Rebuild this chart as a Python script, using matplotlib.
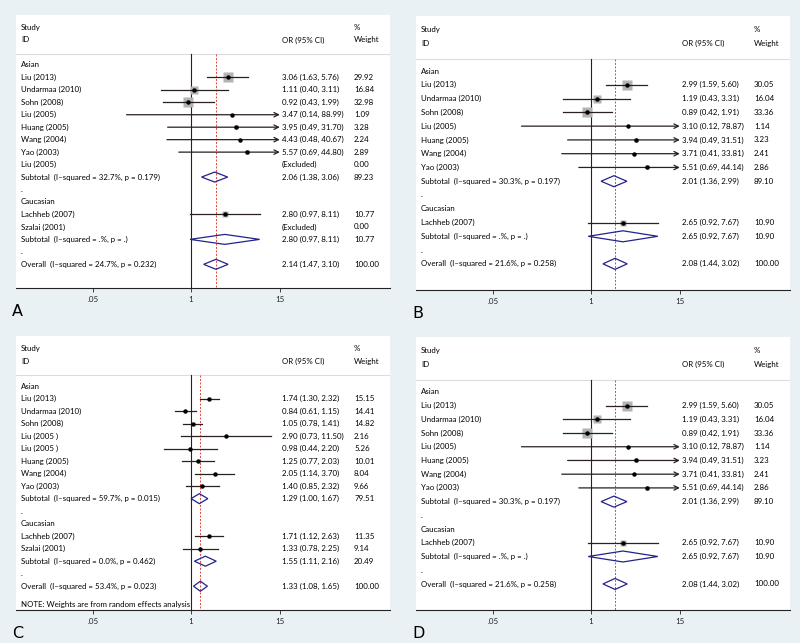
import matplotlib.pyplot as plt
from matplotlib.patches import Polygon
import numpy as np

plt.rcParams['font.family'] = ['Lato', 'DejaVu Sans']

nan = np.nan

# panel A
a_kind = ['g', 's', 's', 's', 's', 's', 's', 's', 'x', 't', '.', 'g', 's', 'x', 't', '.', 'o']
a_names = ['Asian', 'Liu (2013)', 'Undarmaa (2010)', 'Sohn (2008)', 'Liu (2005)', 'Huang (2005)',
           'Wang (2004)', 'Yao (2003)', 'Liu (2005)', 'Subtotal  (I\u2013squared = 32.7%, p = 0.179)', '.',
           'Caucasian', 'Lachheb (2007)', 'Szalai (2001)', 'Subtotal  (I\u2013squared = .%, p = .)', '.',
           'Overall  (I\u2013squared = 24.7%, p = 0.232)']
a_or = [nan, 3.06, 1.11, 0.92, 3.47, 3.95, 4.43, 5.57, nan, 2.06, nan, nan, 2.80, nan, 2.80, nan, 2.14]
a_lo = [nan, 1.63, 0.40, 0.43, 0.14, 0.49, 0.48, 0.69, nan, 1.38, nan, nan, 0.97, nan, 0.97, nan, 1.47]
a_hi = [nan, 5.76, 3.11, 1.99, 88.99, 31.70, 40.67, 44.80, nan, 3.06, nan, nan, 8.11, nan, 8.11, nan, 3.10]
a_wt = [nan, 29.92, 16.84, 32.98, 1.09, 3.28, 2.24, 2.89, 0.00, 89.23, nan, nan, 10.77, 0.00, 10.77, nan, 100.00]

# panel B (panel D shows the same results)
b_kind = ['g', 's', 's', 's', 's', 's', 's', 's', 't', '.', 'g', 's', 't', '.', 'o']
b_names = ['Asian', 'Liu (2013)', 'Undarmaa (2010)', 'Sohn (2008)', 'Liu (2005)', 'Huang (2005)',
           'Wang (2004)', 'Yao (2003)', 'Subtotal  (I\u2013squared = 30.3%, p = 0.197)', '.',
           'Caucasian', 'Lachheb (2007)', 'Subtotal  (I\u2013squared = .%, p = .)', '.',
           'Overall  (I\u2013squared = 21.6%, p = 0.258)']
b_or = [nan, 2.99, 1.19, 0.89, 3.10, 3.94, 3.71, 5.51, 2.01, nan, nan, 2.65, 2.65, nan, 2.08]
b_lo = [nan, 1.59, 0.43, 0.42, 0.12, 0.49, 0.41, 0.69, 1.36, nan, nan, 0.92, 0.92, nan, 1.44]
b_hi = [nan, 5.60, 3.31, 1.91, 78.87, 31.51, 33.81, 44.14, 2.99, nan, nan, 7.67, 7.67, nan, 3.02]
b_wt = [nan, 30.05, 16.04, 33.36, 1.14, 3.23, 2.41, 2.86, 89.10, nan, nan, 10.90, 10.90, nan, 100.00]

# panel C
c_kind = ['g', 's', 's', 's', 's', 's', 's', 's', 's', 't', '.', 'g', 's', 's', 't', '.', 'o']
c_names = ['Asian', 'Liu (2013)', 'Undarmaa (2010)', 'Sohn (2008)', 'Liu (2005 )', 'Liu (2005 )',
           'Huang (2005)', 'Wang (2004)', 'Yao (2003)', 'Subtotal  (I\u2013squared = 59.7%, p = 0.015)', '.',
           'Caucasian', 'Lachheb (2007)', 'Szalai (2001)', 'Subtotal  (I\u2013squared = 0.0%, p = 0.462)', '.',
           'Overall  (I\u2013squared = 53.4%, p = 0.023)']
c_or = [nan, 1.74, 0.84, 1.05, 2.90, 0.98, 1.25, 2.05, 1.40, 1.29, nan, nan, 1.71, 1.33, 1.55, nan, 1.33]
c_lo = [nan, 1.30, 0.61, 0.78, 0.73, 0.44, 0.77, 1.14, 0.85, 1.00, nan, nan, 1.12, 0.78, 1.11, nan, 1.08]
c_hi = [nan, 2.32, 1.15, 1.41, 11.50, 2.20, 2.03, 3.70, 2.32, 1.67, nan, nan, 2.63, 2.25, 2.16, nan, 1.65]
c_wt = [nan, 15.15, 14.41, 14.82, 2.16, 5.26, 10.01, 8.04, 9.66, 79.51, nan, nan, 11.35, 9.14, 20.49, nan, 100.00]

ticks = [0.05, 1, 15]
tick_labels = ['.05', '1', '15']

BG = '#eaf1f4'
FS = 5.7
W, H = 800, 643
XMIN, XMAX = 10 ** -2.318, 10 ** 2.636
CLIP = 15


def draw_panel(box, letter, kind, names, est, lo, hi, wt, boxes=True, note=None):
    left, top, right, bottom = box
    ax = fig.add_axes([left / W, 1 - bottom / H, (right - left) / W, (bottom - top) / H])
    ax.set_facecolor('white')
    ax.set_xscale('log')
    n = len(kind)
    ax.set_xlim(XMIN, XMAX)
    ax.set_ylim(n + 0.9, -4.0)
    for s in ['top', 'right', 'left']:
        ax.spines[s].set_visible(False)
    ax.spines['bottom'].set_color('#222222')
    ax.spines['bottom'].set_linewidth(0.8)
    ax.set_yticks([])
    ax.set_xticks(ticks)
    ax.set_xticklabels(tick_labels)
    ax.minorticks_off()
    ax.tick_params(axis='x', length=3, width=0.6, labelsize=FS, pad=2.5, colors='#222222')

    tr = ax.get_yaxis_transform()
    xt_name, xt_or, xt_wt = 0.0134, 0.711, 0.904
    ax.text(xt_name, -3.0, 'Study', transform=tr, fontsize=FS, va='center')
    ax.text(xt_name, -2.0, 'ID', transform=tr, fontsize=FS, va='center')
    ax.text(xt_or, -2.0, 'OR (95% CI)', transform=tr, fontsize=FS, va='center')
    ax.text(xt_wt, -3.0, '%', transform=tr, fontsize=FS, va='center')
    ax.text(xt_wt, -2.0, 'Weight', transform=tr, fontsize=FS, va='center')
    ax.axhline(-0.85, color='#dcdcdc', lw=0.8)

    overall = est[kind.index('o')]
    ax.plot([1, 1], [-0.85, n + 0.9], color='#222222', lw=0.8, zorder=2)
    ax.plot([overall, overall], [-0.85, n + 0.9], color='#e0463c', lw=0.7,
            dashes=(2, 1.6), zorder=2)

    for i, k in enumerate(kind):
        ax.text(xt_name, i, names[i], transform=tr, fontsize=FS, va='center')
        if k == 'x':
            ax.text(xt_or, i, '(Excluded)', transform=tr, fontsize=FS, va='center')
            ax.text(xt_wt, i, '%.2f' % wt[i], transform=tr, fontsize=FS, va='center')
        if k in ('s', 't', 'o'):
            ax.text(xt_or, i, '%.2f (%.2f, %.2f)' % (est[i], lo[i], hi[i]),
                    transform=tr, fontsize=FS, va='center')
            ax.text(xt_wt, i, '%.2f' % wt[i], transform=tr, fontsize=FS, va='center')
        if k == 's':
            if boxes:
                ax.plot(est[i], i, marker='s', color='#b3b3b3', markersize=1.3 * np.sqrt(wt[i]),
                        mec='none', zorder=3)
            if hi[i] > CLIP:
                ax.annotate('', xy=(CLIP, i), xytext=(lo[i], i),
                            arrowprops=dict(arrowstyle='->', lw=0.9, color='#2a2020',
                                            mutation_scale=8, shrinkA=0, shrinkB=0), zorder=4)
            else:
                ax.plot([lo[i], hi[i]], [i, i], color='#2a2020', lw=0.9, zorder=4)
            ax.plot(est[i], i, marker='o', color='black', markersize=2.2, zorder=5)
        if k in ('t', 'o'):
            d = Polygon([(lo[i], i), (est[i], i - 0.4), (hi[i], i), (est[i], i + 0.4)],
                        closed=True, fill=False, edgecolor='#23238c', lw=0.9, zorder=4)
            ax.add_patch(d)
    if note:
        ax.text(xt_name, n + 0.5, note, transform=tr, fontsize=FS, va='center')

    fig.text((left - 4) / W, 1 - (bottom + 23) / H, letter, fontsize=11.5,
             family='DejaVu Sans', va='center', ha='left')


fig = plt.figure(figsize=(8, 6.43), dpi=100, facecolor=BG)

draw_panel((16, 15, 390, 288), 'A', a_kind, a_names, a_or, a_lo, a_hi, a_wt)
draw_panel((416, 16, 790, 290), 'B', b_kind, b_names, b_or, b_lo, b_hi, b_wt)
draw_panel((16, 336, 390, 610), 'C', c_kind, c_names, c_or, c_lo, c_hi, c_wt, boxes=False,
           note='NOTE: Weights are from random effects analysis')
draw_panel((416, 337, 790, 610), 'D', b_kind, b_names, b_or, b_lo, b_hi, b_wt)

fig.savefig('out.png', dpi=100, facecolor=BG)
